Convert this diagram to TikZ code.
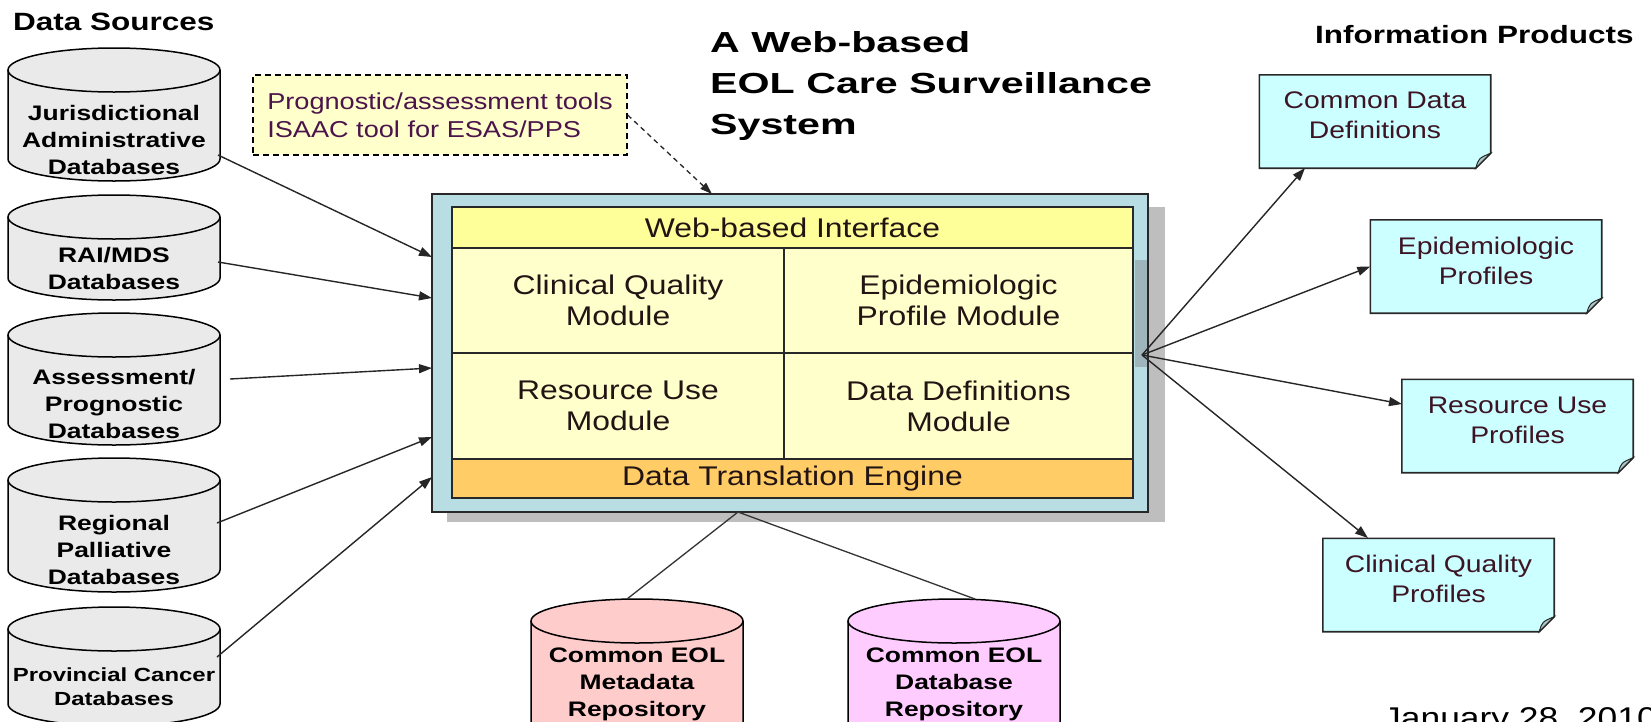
\documentclass[tikz,border=0pt]{standalone}
\usepackage{fontspec}
\setmainfont{Liberation Sans}
\newfontfamily\rgfont[FakeStretch=1.18]{Liberation Sans}
\newfontfamily\bdfont[FakeStretch=1.26]{Liberation Sans}
\newfontfamily\ttlfont[FakeStretch=1.42]{Liberation Sans}
\usetikzlibrary{arrows.meta}
\definecolor{cylgray}{RGB}{234,234,234}
\definecolor{tealbox}{RGB}{184,222,227}
\definecolor{shadowgray}{RGB}{190,190,190}
\definecolor{bandyellow}{RGB}{255,255,153}
\definecolor{modyellow}{RGB}{255,255,204}
\definecolor{dteorange}{RGB}{255,204,102}
\definecolor{doccyan}{RGB}{204,255,255}
\definecolor{foldcol}{RGB}{170,200,200}
\definecolor{notefill}{RGB}{255,255,204}
\definecolor{metapink}{RGB}{255,204,204}
\definecolor{dbviolet}{RGB}{255,204,255}
\definecolor{stripcol}{RGB}{158,182,187}
\definecolor{edge}{RGB}{40,40,40}
\definecolor{notetext}{RGB}{75,20,75}
\definecolor{doctext}{RGB}{60,20,35}
\definecolor{modtext}{RGB}{35,20,20}
\newcommand\dbcyl[4]{%
  \fill[#4] ({#1-106},{#2+22}) -- ({#1-106},{#3-22})
    arc[start angle=180,end angle=360,x radius=106pt,y radius=22pt]
    -- ({#1+106},{#2+22}) -- cycle;
  \fill[#4] (#1,{#2+22}) ellipse[x radius=106pt,y radius=22pt];
  \draw[cylline] ({#1-106},{#2+22}) -- ({#1-106},{#3-22})
    arc[start angle=180,end angle=360,x radius=106pt,y radius=22pt]
    -- ({#1+106},{#2+22});
  \draw[cylline] (#1,{#2+22}) ellipse[x radius=106pt,y radius=22pt];
}
\newcommand\docshape[1]{%
  \draw[docline,fill=doccyan] (#1.north west) -- (#1.north east)
    -- ([yshift=15pt]#1.south east) -- ([xshift=-15pt]#1.south east)
    -- (#1.south west) -- cycle;
  \draw[docline,fill=foldcol,line width=1pt] ([xshift=-15pt]#1.south east)
    .. controls ([xshift=-12pt,yshift=10pt]#1.south east) .. ([yshift=15pt]#1.south east) -- cycle;
}
\begin{document}
\begin{tikzpicture}[x=1pt,y=-1pt,
  cylline/.style={draw=black,line width=1.5pt},
  cyltxt/.style={align=center,inner sep=0pt,text=black,font=\bdfont\bfseries\fontsize{21}{27}\selectfont},
  cell/.style={draw=edge,line width=1.6pt,inner sep=0pt,align=center,text=modtext,font=\rgfont\fontsize{27}{31}\selectfont},
  docline/.style={draw=edge,line width=1.6pt},
  docnode/.style={minimum width=231pt,minimum height=93pt,inner sep=0pt},
  doctxt/.style={align=center,inner sep=0pt,text=doctext,font=\rgfont\fontsize{24}{30}\selectfont},
  conn/.style={draw=black!85,line width=1.4pt,-{Triangle[length=13pt,width=9pt]}},
  plainconn/.style={draw=black!80,line width=1.3pt},
  heading/.style={inner sep=0pt,text=black,font=\bdfont\bfseries\fontsize{25}{30}\selectfont}
]
\useasboundingbox (0,0) rectangle (1651,721);
\clip (0,0) rectangle (1651,721);
\fill[white] (0,0) rectangle (1651,721);

% headings
\node[heading,anchor=base west] (dshead) at (13,30) {Data Sources};
\node[heading,anchor=base west] (iphead) at (1315,43) {Information Products};
\node[inner sep=0pt,anchor=north west,align=left,text=black,
  font=\ttlfont\bfseries\fontsize{29}{41}\selectfont] (title) at (710,31)
  {A Web-based\\EOL Care Surveillance\\System};

% left cylinders
\dbcyl{114}{48}{181}{cylgray}
\node[cyltxt] (c1) at (114,140) {Jurisdictional\\Administrative\\Databases};
\dbcyl{114}{195}{300}{cylgray}
\node[cyltxt] (c2) at (114,268) {RAI/MDS\\Databases};
\dbcyl{114}{313}{445}{cylgray}
\node[cyltxt] (c3) at (114,404) {Assessment/\\Prognostic\\Databases};
\dbcyl{114}{458}{592}{cylgray}
\node[cyltxt] (c4) at (114,550) {Regional\\Palliative\\Databases};
\dbcyl{114}{607}{726}{cylgray}
\node[cyltxt,font=\bdfont\bfseries\fontsize{19}{24}\selectfont] (c5) at (114,687) {Provincial Cancer\\Databases};

% bottom cylinders
\dbcyl{637}{599}{745}{metapink}
\node[cyltxt] (meta) at (637,684) {Common EOL\\Metadata\\Repository};
\dbcyl{954}{599}{745}{dbviolet}
\node[cyltxt] (repo) at (954,684) {Common EOL\\Database\\Repository};

% note box
\node[draw=black,dash pattern=on 6pt off 4pt,line width=1.3pt,fill=notefill,
  minimum width=374pt,minimum height=80pt,inner sep=0pt,align=left,text=notetext,
  font=\rgfont\fontsize{23}{28}\selectfont] (note) at (440,115)
  {Prognostic/assessment tools\\ISAAC tool for ESAS/PPS};

% central system
\fill[shadowgray] (447,207) rectangle (1165,522);
\node[draw=edge,line width=1.8pt,fill=tealbox,minimum width=716pt,minimum height=318pt,inner sep=0pt] (sys) at (790,353) {};
\node[cell,fill=bandyellow,minimum width=681pt,minimum height=41pt] (web) at (792.5,227.5) {Web-based Interface};
\node[cell,fill=modyellow,minimum width=332pt,minimum height=105pt] (cq) at (618,300.5) {Clinical Quality\\Module};
\node[cell,fill=modyellow,minimum width=349pt,minimum height=105pt] (ep) at (958.5,300.5) {Epidemiologic\\Profile Module};
\node[cell,fill=modyellow,minimum width=332pt,minimum height=106pt] (ru) at (618,406) {Resource Use\\Module};
\node[cell,fill=modyellow,minimum width=349pt,minimum height=106pt] (dd) at (958.5,406) {Data Definitions\\Module};
\node[cell,fill=dteorange,minimum width=681pt,minimum height=39pt] (dte) at (792.5,478.5) {Data Translation Engine};
\fill[stripcol] (1135,260) rectangle (1147,367);

% information products
\node[docnode] (p1) at (1375,121.5) {};
\node[docnode] (p2) at (1486,266.5) {};
\node[docnode] (p3) at (1517.5,426) {};
\node[docnode] (p4) at (1438.5,585) {};
\docshape{p1}\docshape{p2}\docshape{p3}\docshape{p4}
\node[doctxt] (p1t) at ([yshift=6pt]p1.center) {Common Data\\Definitions};
\node[doctxt] (p2t) at ([yshift=6pt]p2.center) {Epidemiologic\\Profiles};
\node[doctxt] (p3t) at ([yshift=6pt]p3.center) {Resource Use\\Profiles};
\node[doctxt] (p4t) at ([yshift=6pt]p4.center) {Clinical Quality\\Profiles};

% connector end points
\coordinate (s1) at (218,155);
\coordinate (s2) at (218,262);
\coordinate (s3) at (230,379);
\coordinate (s4) at (217,523);
\coordinate (s5) at (217,657);
\coordinate (e1) at (432,257);
\coordinate (e2) at (432,298);
\coordinate (e3) at (432,368);
\coordinate (e4) at (432,437);
\coordinate (e5) at (432,477);
\coordinate (hub) at (1142,355);
\coordinate (q1) at (1305,168);
\coordinate (q3) at (1402,404);
\coordinate (q4) at (1368,538);
\coordinate (btm) at (738,512);
\coordinate (mtop) at (627,599);
\coordinate (rtop) at (975,599);
\coordinate (ntip) at (712,194);

\draw[conn] (s1) -- (e1);
\draw[conn] (s2) -- (e2);
\draw[conn] (s3) -- (e3);
\draw[conn] (s4) -- (e4);
\draw[conn] (s5) -- (e5);
\draw[conn] (hub) -- (q1);
\draw[conn] (hub) -- (p2.west);
\draw[conn] (hub) -- (q3);
\draw[conn] (hub) -- (q4);
\draw[plainconn] (btm) -- (mtop);
\draw[plainconn] (btm) -- (rtop);
\draw[draw=black!85,line width=1.3pt,dash pattern=on 5pt off 4pt,-{Triangle[length=12pt,width=8pt]}] (note.east) -- (ntip);

% date (cut by the lower edge)
\node[inner sep=0pt,anchor=north west,text=black,font=\rgfont\fontsize{30}{36}\selectfont] (date) at (1383,707) {January 28, 2010};
\end{tikzpicture}
\end{document}
